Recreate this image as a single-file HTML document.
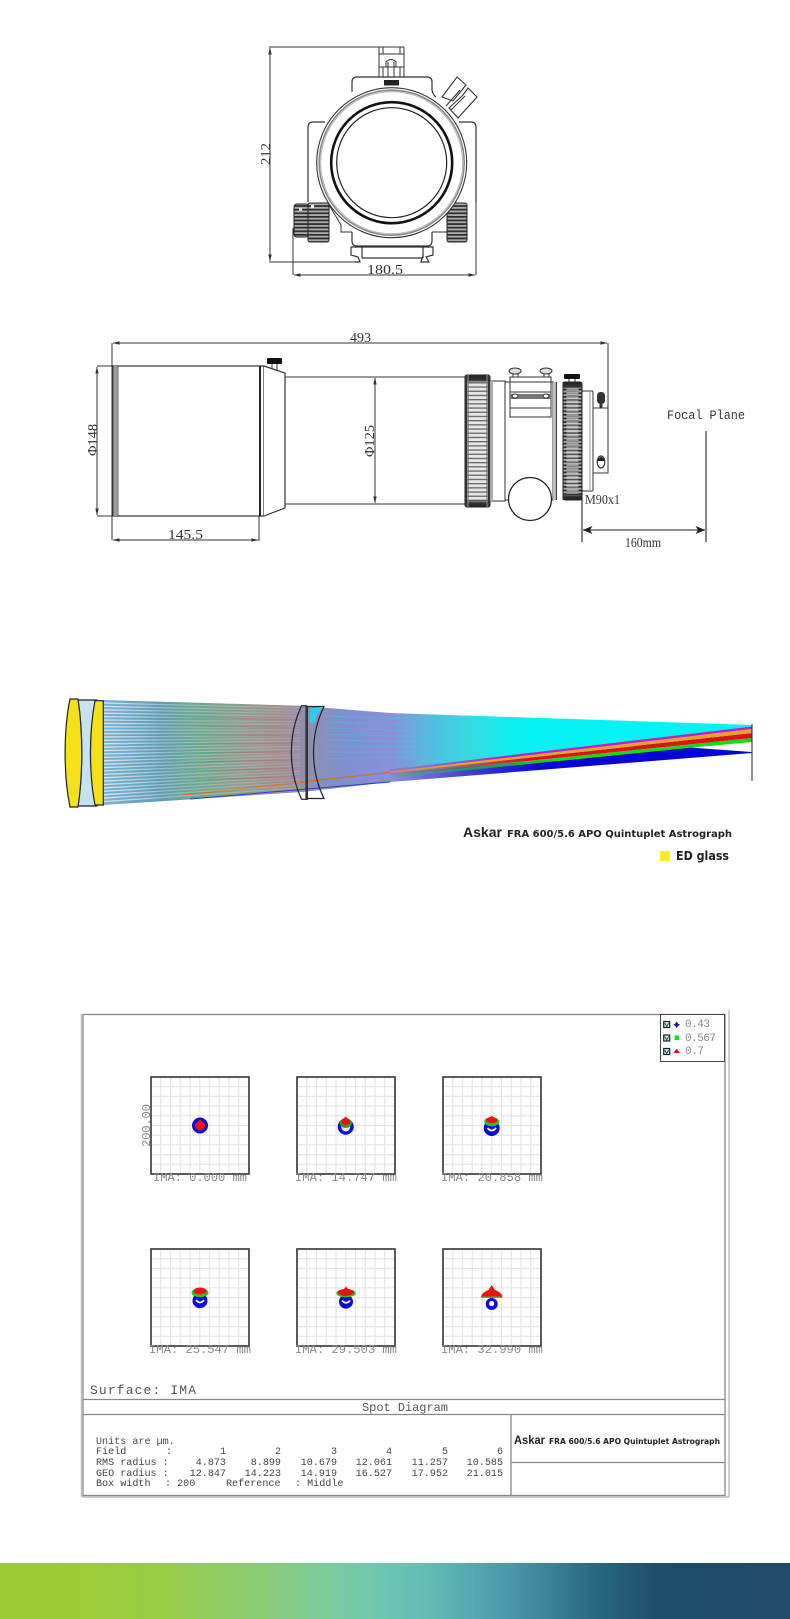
<!DOCTYPE html>
<html><head><meta charset="utf-8"><title>Askar FRA 600</title>
<style>html,body{margin:0;padding:0;background:#fff}svg{display:block}</style></head>
<body>
<svg xmlns="http://www.w3.org/2000/svg" width="790" height="1619" viewBox="0 0 790 1619">
<defs>
<marker id="ar" markerWidth="7" markerHeight="5" refX="6.5" refY="2.5" orient="auto-start-reverse" markerUnits="userSpaceOnUse"><path d="M0,0.8L7,2.5L0,4.2z" fill="#333"/></marker>
<marker id="big" markerWidth="10" markerHeight="9" refX="9.5" refY="4.5" orient="auto-start-reverse" markerUnits="userSpaceOnUse"><path d="M0,0.5L10,4.5L0,8.5L2.5,4.5z" fill="#222"/></marker>
<pattern id="knurl" width="4" height="4.2" patternUnits="userSpaceOnUse"><rect width="4" height="4.2" fill="#e6e6e6"/><rect width="4" height="1.3" fill="#666"/></pattern>
<pattern id="knurlS" width="4" height="3.6" patternUnits="userSpaceOnUse"><rect width="4" height="3.6" fill="#aaa"/><rect width="4" height="1.7" fill="#2a2a2a"/></pattern>
<linearGradient id="ringV" x1="0" y1="0" x2="0" y2="1"><stop offset="0" stop-color="#222"/><stop offset=".04" stop-color="#333"/><stop offset=".06" stop-color="#333" stop-opacity="0"/><stop offset=".94" stop-color="#333" stop-opacity="0"/><stop offset=".97" stop-color="#333"/><stop offset="1" stop-color="#222"/></linearGradient>
<linearGradient id="mix" gradientUnits="userSpaceOnUse" x1="103" y1="0" x2="390" y2="0"><stop offset="0" stop-color="#7fb2d4"/><stop offset=".2" stop-color="#5f9cb2"/><stop offset=".33" stop-color="#70a690"/><stop offset=".5" stop-color="#909a90"/><stop offset=".62" stop-color="#a08f90"/><stop offset=".72" stop-color="#8f8fb0"/><stop offset=".85" stop-color="#7f8fd0"/><stop offset="1" stop-color="#8a90d8"/></linearGradient>
<linearGradient id="cy" gradientUnits="userSpaceOnUse" x1="390" y1="0" x2="540" y2="0"><stop offset="0" stop-color="#8a90d8"/><stop offset=".3" stop-color="#50c0e0"/><stop offset=".55" stop-color="#35dce0"/><stop offset=".8" stop-color="#10eef0"/><stop offset="1" stop-color="#05f2f5"/></linearGradient>
<linearGradient id="bl" gradientUnits="userSpaceOnUse" x1="390" y1="0" x2="545" y2="0"><stop offset="0" stop-color="#8a90d8"/><stop offset=".5" stop-color="#4040d0"/><stop offset="1" stop-color="#0505d5"/></linearGradient>
<linearGradient id="fMag" gradientUnits="userSpaceOnUse" x1="390" y1="0" x2="500" y2="0"><stop offset="0" stop-color="#c020c0" stop-opacity=".25"/><stop offset="1" stop-color="#c020c0"/></linearGradient>
<linearGradient id="fOr" gradientUnits="userSpaceOnUse" x1="390" y1="0" x2="470" y2="0"><stop offset="0" stop-color="#e0902a" stop-opacity=".8"/><stop offset="1" stop-color="#e8a030"/></linearGradient>
<linearGradient id="fRe" gradientUnits="userSpaceOnUse" x1="390" y1="0" x2="520" y2="0"><stop offset="0" stop-color="#d81414" stop-opacity=".1"/><stop offset="1" stop-color="#d81414"/></linearGradient>
<linearGradient id="fGr" gradientUnits="userSpaceOnUse" x1="390" y1="0" x2="560" y2="0"><stop offset="0" stop-color="#12dd12" stop-opacity=".1"/><stop offset="1" stop-color="#12dd12"/></linearGradient>
<linearGradient id="fade" gradientUnits="userSpaceOnUse" x1="103" y1="0" x2="300" y2="0"><stop offset="0" stop-color="#fff" stop-opacity=".7"/><stop offset=".35" stop-color="#fff" stop-opacity=".3"/><stop offset="1" stop-color="#fff" stop-opacity=".12"/></linearGradient>
<linearGradient id="tint" gradientUnits="userSpaceOnUse" x1="170" y1="0" x2="300" y2="0"><stop offset="0" stop-color="#30b060" stop-opacity=".1"/><stop offset=".3" stop-color="#30b060" stop-opacity=".6"/><stop offset=".6" stop-color="#c05040" stop-opacity=".55"/><stop offset="1" stop-color="#c050a0" stop-opacity=".3"/></linearGradient>
<linearGradient id="bar" x1="0" x2="1" y1="0" y2="0"><stop offset="0" stop-color="#9ccb33"/><stop offset=".2" stop-color="#98cc42"/><stop offset=".33" stop-color="#8bcb78"/><stop offset=".46" stop-color="#72c9ac"/><stop offset=".54" stop-color="#64bcb6"/><stop offset=".65" stop-color="#4896a8"/><stop offset=".75" stop-color="#2a6a80"/><stop offset=".83" stop-color="#1e4e6c"/><stop offset="1" stop-color="#1f4a68"/></linearGradient>
<g id="plot"><rect x="0" y="0" width="98" height="97" fill="#fff"/><path d="M9.75,1V96M19.5,1V96M29.25,1V96M39,1V96M48.75,1V96M58.5,1V96M68.25,1V96M78,1V96M87.75,1V96M1,9.7H97M1,19.4H97M1,29.1H97M1,38.8H97M1,48.5H97M1,58.2H97M1,67.9H97M1,77.6H97M1,87.3H97" stroke="#e8e4e4" stroke-width="1.2" fill="none"/><rect x="0" y="0" width="98" height="97" fill="none" stroke="#333" stroke-width="1.6"/></g>
<g id="chk"><rect x="-3" y="-3" width="6" height="6" fill="#dfe8df" stroke="#123" stroke-width="1.2"/><path d="M-2,-1.5L0,2L2,-1.5" fill="none" stroke="#163" stroke-width="1"/></g>
</defs>

<rect width="790" height="1619" fill="#fff"/>

<!-- FRONT VIEW -->
<g fill="none" stroke="#333" stroke-width="1">
<path d="M269,47H403M269,262H360M293,228V275M476,200V275"/>
<path d="M270,48V261" marker-start="url(#ar)" marker-end="url(#ar)"/>
<path d="M294,275H475" marker-start="url(#ar)" marker-end="url(#ar)"/>
<!-- rail top -->
<path d="M379,77V47H404V47M404,47V77M379,54H404M383,47V54M400,47V54M379,67H404M383,67V77M400,67V77M386,67V62Q391,57 396,62V67M388,62V80M394,62V80"/>
<!-- focuser ports -->
<path fill="#fff" stroke-width="1.1" d="M442,97L457,77L466,85L453,101Z"/>
<path fill="#fff" stroke-width="1.1" d="M449,108L463,95L468,88L477,97L458,118Z"/>
<path d="M446,106L460,90M451,110L465,96" stroke-width="1"/>
<!-- body -->
<path fill="#fff" stroke-width="1.2" d="M357,77H427Q432,77 432,82V90Q433,96 438,98L459,122H471Q476,122 476,127V202H432V241Q432,246 427,246H357Q352,246 352,241V202H308V127Q308,122 313,122H325L352,92V82Q352,77 357,77Z" stroke="none"/>
<path stroke-width="1.2" d="M325,122H313Q308,122 308,127V202M352,92V82Q352,77 357,77H427Q432,77 432,82V90Q433,95 436,97M459,122H471Q476,122 476,127V202M432,232V241Q432,246 427,246H357Q352,246 352,241V232"/>
<!-- dovetail -->
<path stroke-width="1.2" d="M351,247H433V255L426,257L429,262H421L423,255V247M351,247V255L358,257L360,262H355M362,258H423M362,247V258M423,247V258"/>
</g>
<rect x="384" y="80" width="15" height="5.5" fill="#222"/>
<!-- knobs -->
<rect x="294" y="204" width="15" height="33" rx="3" fill="url(#knurlS)" stroke="#222"/>
<rect x="308" y="203" width="21" height="39" rx="2" fill="url(#knurlS)" stroke="#222"/>
<rect x="447" y="203" width="20" height="39" rx="2" fill="url(#knurlS)" stroke="#222"/>
<rect x="311" y="205" width="3" height="3" fill="#fff"/><rect x="299" y="208" width="3" height="3" fill="#ddd"/>
<path d="M329,205L341,225V232H352M447,232H432" fill="none" stroke="#333"/>
<!-- circles -->
<g fill="none" stroke="#333">
<circle cx="391.7" cy="162.7" r="75" fill="#fff" stroke-width="1.1"/>
<circle cx="391.7" cy="162.7" r="72.5" stroke="#888" stroke-width="1.6"/>
<circle cx="391.7" cy="162.7" r="71" stroke="#aaa" stroke-width=".8"/>
<circle cx="391.7" cy="162.7" r="60.5" stroke="#111" stroke-width="2.6"/>
<circle cx="391.7" cy="162.7" r="55" stroke="#222" stroke-width="1.2"/>
</g>
<g font-family="'Liberation Serif',serif" font-size="14" fill="#333">
<text x="367" y="274" textLength="36" lengthAdjust="spacingAndGlyphs">180.5</text>
<text transform="translate(270,165) rotate(-90)" textLength="22" lengthAdjust="spacingAndGlyphs">212</text>
<text x="350" y="342" textLength="21" lengthAdjust="spacingAndGlyphs">493</text>
<text x="168" y="539" textLength="35" lengthAdjust="spacingAndGlyphs">145.5</text>
<text transform="translate(97,456) rotate(-90)" textLength="32" lengthAdjust="spacingAndGlyphs">Φ148</text>
<text transform="translate(374,457) rotate(-90)" textLength="32" lengthAdjust="spacingAndGlyphs">Φ125</text>
<text x="585" y="504" textLength="35" lengthAdjust="spacingAndGlyphs">M90x1</text>
<text x="625" y="547" textLength="36" lengthAdjust="spacingAndGlyphs">160mm</text>
</g>
<text x="667" y="419" font-family="'Liberation Mono',monospace" font-size="13" fill="#333" textLength="78" lengthAdjust="spacingAndGlyphs">Focal Plane</text>

<!-- SIDE VIEW -->
<g fill="none" stroke="#333" stroke-width="1">
<path d="M113,343H607" marker-start="url(#ar)" marker-end="url(#ar)"/>
<path d="M112,343V540M608,343V408"/>
<path d="M97,367V515" marker-start="url(#ar)" marker-end="url(#ar)"/>
<path d="M97,366H112M97,516H112"/>
<path d="M375,378V503" marker-start="url(#ar)" marker-end="url(#ar)"/>
<path d="M113,540H258" marker-start="url(#ar)" marker-end="url(#ar)"/>
<path d="M259,516V541"/>
<rect x="113" y="366" width="151" height="150" fill="#fff" stroke-width="1.2"/>
<path d="M115.5,366V516" stroke="#999" stroke-width="3.5"/>
<path d="M118,366V516" stroke-width=".8"/>
<path d="M260,366V516" stroke="#111" stroke-width="1.8"/>
<path d="M264,366L285,373V508L264,516" stroke-width="1.2" fill="#fff"/>
<path d="M285,377H465M285,504H465" stroke-width="1"/>
</g>
<rect x="267" y="358" width="15" height="6" rx="1" fill="#111"/>
<path d="M272,364V369M277,364V371" stroke="#333" fill="none"/>
<!-- ring 1 -->
<rect x="465" y="375" width="25" height="132" rx="2" fill="url(#knurl)" stroke="#222" stroke-width="1"/>
<rect x="465" y="375" width="25" height="132" rx="2" fill="url(#ringV)"/>
<rect x="465" y="375" width="2" height="132" fill="#333"/>
<rect x="467" y="375" width="2" height="132" fill="#777" opacity=".7"/>
<rect x="486" y="375" width="2" height="132" fill="#777" opacity=".7"/>
<rect x="488" y="375" width="2" height="132" fill="#333"/>
<!-- middle body -->
<g fill="none" stroke="#333" stroke-width="1">
<path d="M490,381H505V501H490" />
<rect x="490" y="381" width="3" height="120" fill="#aaa" stroke="none"/>
<path d="M505,382H553V500H505M505,381V501" />
<rect x="510" y="377" width="41" height="40" fill="#fff"/>
<path d="M510,382H551M510,392H551M510,408H551"/>
<rect x="510" y="394" width="41" height="5" fill="#777" stroke="none"/>
<ellipse cx="515" cy="371" rx="6" ry="3" fill="#ddd"/><ellipse cx="546" cy="371" rx="6" ry="3" fill="#ddd"/>
<path d="M513,374V377M518,374V377M544,374V377M549,374V377"/>
<ellipse cx="515" cy="396" rx="3" ry="2" fill="#fff"/><ellipse cx="546" cy="396" rx="3" ry="2" fill="#fff"/>
<path d="M553,382V500M556.5,382V500M563,382V500"/>
<rect x="553" y="382" width="3" height="118" fill="#bbb" stroke="none"/>
<rect x="582" y="391" width="11" height="100" rx="1.5" fill="#fff"/>
<path d="M590,391V491" stroke="#999"/>
<rect x="593" y="408" width="15" height="65" fill="#fff"/>
<path d="M601,400V408" stroke-width="3"/>
<ellipse cx="601" cy="462" rx="3.8" ry="6" stroke-width="1.2"/>
</g>
<circle cx="530" cy="499" r="21.5" fill="#fff" stroke="#222" stroke-width="1.3"/>
<rect x="597" y="392" width="8" height="12" rx="3.5" fill="#333"/>
<path d="M597.2,461Q601,453 604.8,461Z" fill="#222"/>
<rect x="564" y="374" width="16" height="5" rx="1" fill="#111"/>
<path d="M569,379V382M575,379V382" stroke="#333"/>
<!-- ring 2 -->
<rect x="563" y="382" width="19" height="118" rx="2" fill="url(#knurlS)" stroke="#222"/>
<rect x="566.5" y="388" width="12" height="106" fill="url(#knurl)" opacity=".55"/>
<rect x="563" y="382" width="19" height="118" rx="2" fill="url(#ringV)"/>
<!-- focal -->
<path d="M706,431V542M582,491V542" stroke="#222" stroke-width="1.1" fill="none"/>
<path d="M583,530H705" stroke="#222" stroke-width="1" fill="none" marker-start="url(#big)" marker-end="url(#big)"/>

<!-- OPTICS -->
<polygon points="103,700 300,705.7 390,713 391,782 303,792 103,805" fill="url(#mix)"/>
<polygon points="390,713 752,725 752,728 390,778" fill="url(#cy)"/>
<polygon points="390,774 683,747 752,752 752,753 390,782" fill="url(#bl)"/>
<polygon points="390,775 752,738 752,742 683,748.5 390,778" fill="url(#fGr)"/>
<polygon points="390,773 752,733 752,738 390,775" fill="url(#fRe)"/>
<polygon points="390,771.5 752,729 752,733 390,773" fill="url(#fOr)"/>
<polygon points="390,769.5 752,726.5 752,729 390,771.5" fill="url(#fMag)"/>
<path d="M183,795L390,772.3" stroke="#c8752a" stroke-width="1.2" fill="none"/>
<path d="M190,799L390,782" stroke="#2b3fc8" stroke-width="1" fill="none"/>
<path fill="none" stroke="url(#fade)" stroke-width="1.3" d="M103,703L300,708M103,706.4L300,710.8M103,709.8L300,713.5M103,713.2L300,716.3M103,716.6L300,719M103,720L300,721.8M103,723.4L300,724.5M103,726.8L300,727.3M103,730.2L300,730M103,733.6L300,732.8M103,737L300,735.5M103,740.4L300,738.3M103,743.8L300,741M103,747.2L300,743.8M103,750.6L300,746.5M103,754L300,749.3M103,757.4L300,752M103,760.8L300,754.8M103,764.2L300,757.5M103,767.6L300,760.3M103,771L300,763M103,774.4L300,765.8M103,777.8L300,768.5M103,781.2L300,771.3M103,784.6L300,774M103,788L300,776.8M103,791.4L300,779.5M103,794.8L300,782.3M103,798.2L300,785M103,801.6L300,787.8"/>
<path fill="none" stroke="url(#tint)" stroke-width="1.1" d="M170,717L300,719.5M170,726L300,727.3M170,735L300,735.5M170,744L300,743.8M170,753L300,752M170,762L300,760.3M170,771L300,768.5M170,780L300,776.8"/>
<path fill="none" stroke="#40c8e8" stroke-opacity=".45" stroke-width="1" d="M325,716L440,720M325,722L440,726M325,728L440,732M325,734L440,737M325,740L440,742M325,746L440,747M325,752L430,752M325,758L410,758"/>
<path d="M310,708H322Q316,716 314,724L310,722Z" fill="#35c8ef"/>
<!-- lenses -->
<g stroke="#222" stroke-width="1.2">
<path d="M78,700H96.7C88.5,732 88.5,774 96.7,806H78C83,774 83,732 78,700Z" fill="#b8dbe8" fill-opacity=".8"/>
<path d="M70,699H78C83,732 83,774 78,807H70C63.5,776 63.5,730 70,699Z" fill="#f5e11a"/>
<path d="M95,700.7H103.3V805H95C89,774 89,732 95,700.7Z" fill="#f5e11a"/>
<path d="M301.5,705.7H306.5V799.3H301.5C288,770 288,735 301.5,705.7Z" fill="none"/>
<path d="M307,706.5H324C310,735 310,770 324,798.5H307Z" fill="none"/>
</g>
<path d="M306.7,706V800" stroke="#333" stroke-width="2.6"/>
<path d="M752,724V781" stroke="#222" stroke-width="1"/>
<g font-family="'DejaVu Sans',sans-serif" font-weight="bold" fill="#222">
<text x="463" y="837" font-family="'Liberation Sans',sans-serif" font-size="14" textLength="39" lengthAdjust="spacingAndGlyphs">Askar</text>
<text x="507" y="837" font-size="10" textLength="225" lengthAdjust="spacingAndGlyphs">FRA 600/5.6 APO Quintuplet Astrograph</text>
<text x="676" y="860" font-size="12" textLength="53" lengthAdjust="spacingAndGlyphs">ED glass</text>
<text x="514" y="1444" font-family="'Liberation Sans',sans-serif" font-size="12" textLength="31" lengthAdjust="spacingAndGlyphs">Askar</text>
<text x="549" y="1444" font-size="8" textLength="171" lengthAdjust="spacingAndGlyphs">FRA 600/5.6 APO Quintuplet Astrograph</text>
</g>
<rect x="660" y="851" width="10" height="10" fill="#f7ec2c"/>

<!-- SPOT DIAGRAM FRAME -->
<g fill="none" stroke="#888" stroke-width="1.3">
<rect x="83" y="1014.5" width="642" height="481"/>
<path d="M81.5,1014V1497M729,1010V1497" stroke="#bbb" stroke-width="1.4"/>
<path d="M82,1497H729" stroke="#bbb" stroke-width="1.4"/>
<path d="M83,1399.5H725M83,1414.5H725M511,1414V1495M511,1462.5H725"/>
</g>
<rect x="660.5" y="1014.5" width="64" height="47" fill="#fff" stroke="#444"/>
<use href="#chk" x="666.7" y="1024.5"/><use href="#chk" x="666.7" y="1038"/><use href="#chk" x="666.7" y="1051.5"/>
<path d="M676.7,1021.5L678,1023.5L680,1024.7L678,1026L676.7,1028L675.4,1026L673.4,1024.7L675.4,1023.5Z" fill="#12128c"/>
<rect x="674.5" y="1035.5" width="4.5" height="4.5" fill="#16e016"/>
<path d="M676.7,1048.5L680,1053H673.4Z" fill="#d81414"/>
<g font-family="'Liberation Mono',monospace" font-size="11" fill="#888">
<text x="685" y="1027" textLength="25">0.43</text>
<text x="685" y="1041" textLength="31">0.567</text>
<text x="685" y="1054" textLength="19">0.7</text>
</g>

<!-- PLOTS -->
<use href="#plot" x="151" y="1077"/><use href="#plot" x="297" y="1077"/><use href="#plot" x="443" y="1077"/>
<use href="#plot" x="151" y="1249"/><use href="#plot" x="297" y="1249"/><use href="#plot" x="443" y="1249"/>

<circle cx="200" cy="1125.5" r="8" fill="#0a0ad8"/>
<path d="M200,1119.5L205,1124Q205.5,1130 200,1130Q194.5,1130 195,1124Z" fill="#ee1010"/>

<circle cx="345.7" cy="1126.7" r="8" fill="#0a0ad8"/><circle cx="345.7" cy="1127" r="4.5" fill="#dfeef5"/>
<ellipse cx="345.7" cy="1123" rx="6" ry="5" fill="#2aa030"/>
<path d="M345.7,1116.5L350,1121Q350,1125 345.7,1125Q341,1125 341,1121Z" fill="#ee1010"/>

<circle cx="491.7" cy="1128" r="8" fill="#0a0ad8"/><path d="M487.5,1128Q491.7,1133 496,1128" stroke="#fff" stroke-width="1.8" fill="none"/>
<ellipse cx="491.7" cy="1121.7" rx="7.5" ry="4.7" fill="#22c822"/>
<path d="M491.7,1116L497,1119Q498,1123 491.7,1123Q485.5,1123 486,1119Z" fill="#ee1010"/>

<circle cx="200" cy="1300.7" r="7.5" fill="#0a0ad8"/><path d="M196,1300Q200,1305 204,1300" stroke="#fff" stroke-width="1.8" fill="none"/>
<ellipse cx="200" cy="1292.7" rx="8.5" ry="4.5" fill="#22c822"/>
<ellipse cx="200" cy="1291" rx="6.5" ry="3.5" fill="#ee1010"/>

<circle cx="346" cy="1301.7" r="7" fill="#0a0ad8"/><path d="M342,1300.5Q346,1305 350,1300.5" stroke="#fff" stroke-width="1.8" fill="none"/>
<ellipse cx="346" cy="1293.2" rx="9.7" ry="4.2" fill="#22c822"/>
<path d="M346,1286.5L348,1289Q354,1289.5 354.5,1293Q350,1296 346,1296Q341,1296 337.5,1293Q338,1289.5 344,1289Z" fill="#ee1010"/>

<circle cx="491.7" cy="1304" r="6" fill="#0a0ad8"/><circle cx="491.7" cy="1303.5" r="2.6" fill="#fff"/>
<path d="M481,1296Q487,1294 491.7,1294Q497,1294 502.5,1296L502,1298H481.5Z" fill="#22c822"/>
<path d="M491.7,1285L495,1290Q501,1292 502.5,1296.5H481Q482.5,1292 488.5,1290Z" fill="#ee1010"/>

<g font-family="'Liberation Mono',monospace" font-size="12.2" fill="#888">
<text x="153" y="1181" textLength="94">IMA: 0.000 mm</text>
<text x="295" y="1181" textLength="102">IMA: 14.747 mm</text>
<text x="441" y="1181" textLength="102">IMA: 20.858 mm</text>
<text x="149" y="1353" textLength="102">IMA: 25.547 mm</text>
<text x="295" y="1353" textLength="102">IMA: 29.503 mm</text>
<text x="441" y="1353" textLength="102">IMA: 32.990 mm</text>
<text transform="translate(150,1147) rotate(-90)" textLength="43">200.00</text>
</g>
<text x="90" y="1394" font-family="'Liberation Mono',monospace" font-size="13" fill="#555" textLength="106">Surface: IMA</text>
<text x="362" y="1411" font-family="'Liberation Mono',monospace" font-size="12" fill="#555" textLength="86">Spot Diagram</text>

<g font-family="'Liberation Mono',monospace" font-size="10.1" fill="#444">
<text x="96" y="1444">Units are µm.</text>
<text x="96" y="1454">Field</text><text x="166" y="1454">:</text>
<text x="96" y="1465">RMS radius :</text>
<text x="96" y="1476">GEO radius :</text>
<text x="96" y="1486">Box width</text><text x="165" y="1486">: 200</text><text x="226" y="1486">Reference</text><text x="295" y="1486">: Middle</text>
<g text-anchor="end">
<text x="226" y="1454">1</text><text x="281" y="1454">2</text><text x="337" y="1454">3</text><text x="392" y="1454">4</text><text x="448" y="1454">5</text><text x="503" y="1454">6</text>
<text x="226" y="1465">4.873</text><text x="281" y="1465">8.899</text><text x="337" y="1465">10.679</text><text x="392" y="1465">12.061</text><text x="448" y="1465">11.257</text><text x="503" y="1465">10.585</text>
<text x="226" y="1476">12.847</text><text x="281" y="1476">14.223</text><text x="337" y="1476">14.919</text><text x="392" y="1476">16.527</text><text x="448" y="1476">17.952</text><text x="503" y="1476">21.015</text>
</g></g>

<rect x="0" y="1563" width="790" height="56" fill="url(#bar)"/>
</svg>
</body></html>
